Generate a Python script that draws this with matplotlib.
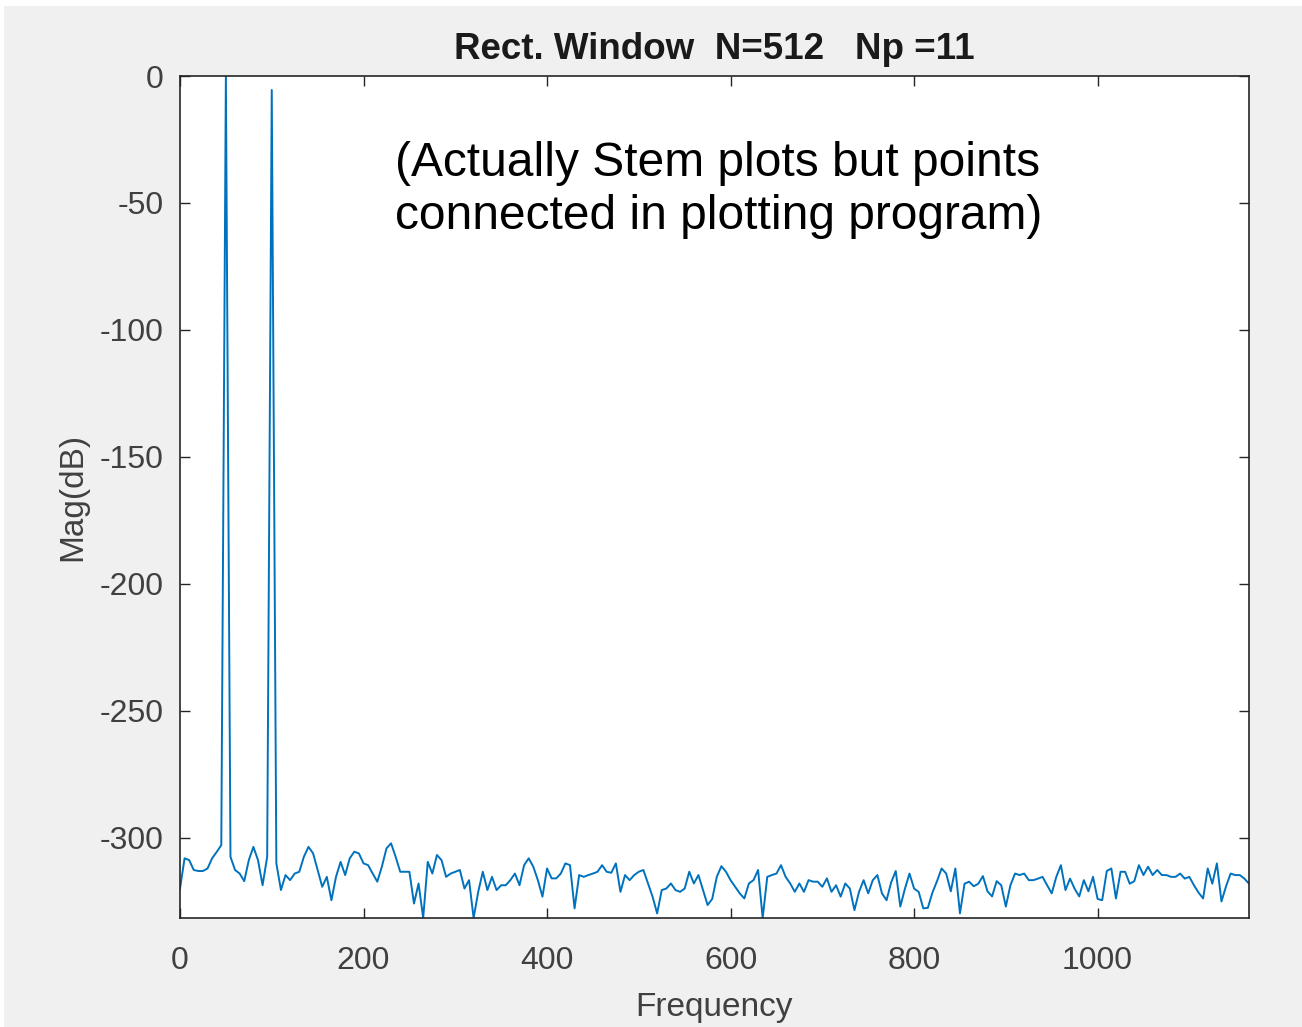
# plot.py - espectro con ventana rectangular
import numpy as np
import matplotlib.pyplot as plt
from matplotlib.patches import Rectangle

plt.rcParams['font.family'] = ['Liberation Sans', 'DejaVu Sans']
plt.rcParams['axes.unicode_minus'] = False   # guion simple como en MATLAB

df = 5.0   # separacion entre bins (Hz)
mag_db = [
    -320, -308, -308.7, -312.6, -313, -313, -312, -308, -305.5, -302.8,   # 0-45
    0, -307.4, -312.6, -314, -317, -308.7, -303.5, -308.7, -318.6, -307.4,  # 50-95
    -5.5, -310, -320.5, -314.6, -316.6, -314, -313.3, -307.4, -303.5, -306,  # 100-145
    -312.6, -319.2, -315.3, -324.5, -315.3, -309.4, -314.6, -308, -305.4, -306.1,  # 150-195
    -310, -310.7, -314, -317.2, -311.3, -304.1, -302.1, -307.4, -313.3, -313.3,  # 200-245
    -313.3, -325.8, -317.9, -331.5, -309.4, -314, -306.7, -308.7, -315.3, -314,  # 250-295
    -313.3, -312.6, -319.9, -316.6, -331.5, -321.2, -313.3, -320.5, -315.3, -320.5,  # 300-345
    -318.6, -318.6, -316.6, -314, -318.6, -310.7, -308, -311.3, -316.6, -323.1,  # 350-395
    -312, -315.9, -315.9, -314, -310, -310.7, -327.7, -314.6, -315.3, -314.6,  # 400-445
    -314, -313.3, -310.7, -313.3, -313.7, -310, -321.2, -314.6, -316.6, -314.6,  # 450-495
    -313.3, -312.6, -317.9, -323.1, -329.7, -320.5, -319.9, -317.9, -320.5, -321.2,  # 500-545
    -319.9, -313.3, -317.9, -314.6, -320.5, -326.4, -324, -315.3, -311.1, -313.3,  # 550-595
    -316.6, -319.2, -321.8, -323.8, -317.9, -316.6, -312.6, -331.5, -315.3, -314.6,  # 600-645
    -314, -310.7, -315.3, -317.9, -321.2, -317.9, -321.2, -316.6, -317.2, -317.2,  # 650-695
    -319.2, -315.9, -321.2, -318.6, -323.1, -317.9, -319.9, -328.4, -321.2, -316.6,  # 700-745
    -321.8, -316.6, -314.6, -321.8, -324.5, -317.5, -313, -327, -320, -314,  # 750-795
    -319.9, -321.2, -327.7, -327.5, -321.5, -317, -312, -314, -321, -312,  # 800-845
    -329.7, -318, -317.2, -319, -318, -315, -321, -323, -317, -318.6,  # 850-895
    -327, -318.6, -314, -314.6, -314, -316.6, -316.6, -316, -315.3, -318.6,  # 900-945
    -321.8, -315.3, -310.7, -320.5, -316, -320, -323, -316.6, -321, -315.3,  # 950-995
    -324, -324.5, -313, -312, -323.8, -313.3, -313.3, -318, -317, -310.7,  # 1000-1045
    -314.6, -311.3, -314.6, -312.6, -314.6, -314.6, -315.3, -315.3, -314, -316,  # 1050-1095
    -315.3, -318.6, -321.5, -323.8, -312, -318, -310, -325, -319, -314,  # 1100-1145
    -314.6, -314.6, -316, -318,  # 1150-1165
]
freq = np.arange(len(mag_db)) * df

fig = plt.figure(figsize=(13.02, 10.27), dpi=100, facecolor='white')
fig.patches.append(Rectangle((4/1302, 0), 1, 1 - 6/1027, transform=fig.transFigure,
                             facecolor='#f0f0f0', edgecolor='none', zorder=-10))

ax = fig.add_axes([180/1302, 1 - 918/1027, 1069/1302, 842/1027])
ax.plot(freq, mag_db, color='#0072BD', linewidth=1.4)

ax.set_xlim(0, freq[-1])
ax.set_ylim(-331.5, 0)
ax.set_xticks([0, 200, 400, 600, 800, 1000])
ax.set_yticks([0, -50, -100, -150, -200, -250, -300])

ax.tick_params(direction='in', length=7, width=1, top=True, right=True,
               labelsize=23, colors='#262626', labelcolor='#404040')
ax.tick_params(axis='x', pad=20)
ax.tick_params(axis='y', pad=12)
for s in ax.spines.values():
    s.set_color('#262626')
    s.set_linewidth(1.2)

ax.set_xlabel('Frequency', fontsize=24, color='#404040', labelpad=12)
ax.set_ylabel('Mag(dB)', fontsize=24, color='#404040', labelpad=8)
ax.set_title('Rect. Window  N=512   Np =11', fontsize=26.5, fontweight='bold',
             color='#1a1a1a', pad=12)

ax.text(395/1302, 1 - 190/1027, '(Actually Stem plots but points\nconnected in plotting program)',
        transform=fig.transFigure, fontsize=34.5, color='black', va='center', ha='left',
        linespacing=1.25)

fig.savefig('out.png', dpi=100, facecolor=fig.get_facecolor())
